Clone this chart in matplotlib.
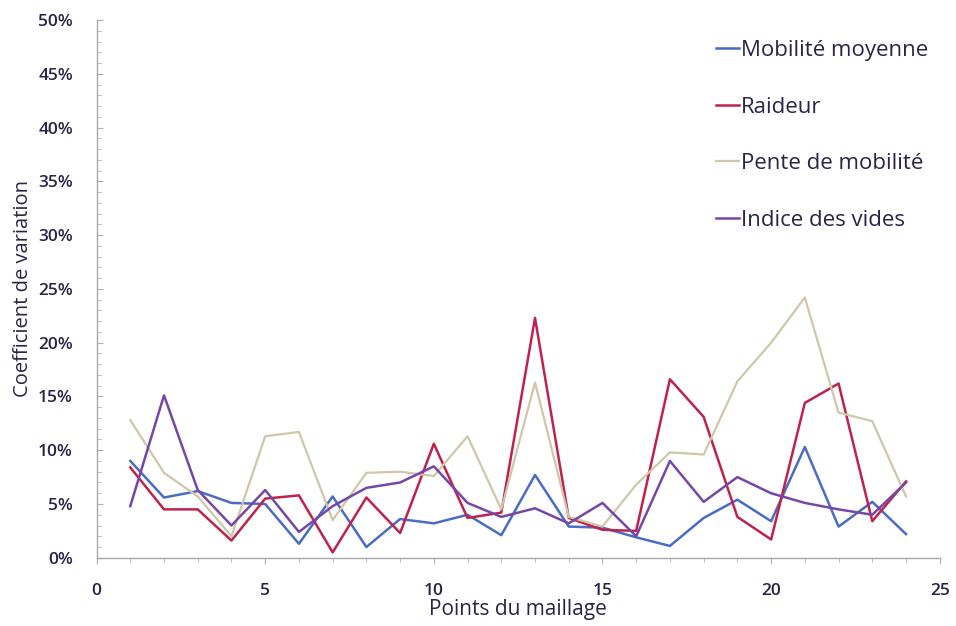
import matplotlib.pyplot as plt
from matplotlib.ticker import MultipleLocator, FuncFormatter

plt.rcParams['font.family'] = ['Open Sans', 'DejaVu Sans']

points = list(range(1, 25))

mobilite = [9.0, 5.6, 6.2, 5.1, 5.0, 1.3, 5.7, 1.0, 3.6, 3.2, 4.0, 2.1,
            7.7, 2.9, 2.8, 1.9, 1.1, 3.7, 5.4, 3.4, 10.3, 2.9, 5.2, 2.2]
raideur = [8.4, 4.5, 4.5, 1.6, 5.5, 5.8, 0.5, 5.6, 2.3, 10.6, 3.7, 4.2,
           22.3, 3.7, 2.6, 2.5, 16.6, 13.1, 3.8, 1.7, 14.4, 16.2, 3.4, 7.1]
pente = [12.8, 7.9, 5.7, 2.0, 11.3, 11.7, 3.5, 7.9, 8.0, 7.6, 11.3, 4.5,
         16.3, 3.8, 2.9, 6.8, 9.8, 9.6, 16.4, 20.0, 24.2, 13.5, 12.7, 5.7]
indice = [4.8, 15.1, 6.3, 3.0, 6.3, 2.4, 4.8, 6.5, 7.0, 8.5, 5.1, 3.8,
          4.6, 3.2, 5.1, 2.0, 9.0, 5.2, 7.5, 6.0, 5.1, 4.5, 4.0, 7.0]

series = [
    ('Mobilité moyenne', mobilite, '#4a6cc4', 1.8),
    ('Raideur', raideur, '#c0224c', 1.8),
    ('Pente de mobilité', pente, '#cfc7aa', 1.6),
    ('Indice des vides', indice, '#7647a6', 1.8),
]

fig = plt.figure(figsize=(9.56, 6.26), dpi=100)
ax = fig.add_axes([0.101, 0.109, 0.882, 0.859])

for name, vals, col, lw in series:
    ax.plot(points, vals, color=col, lw=lw, label=name)

ax.set_xlim(0, 25)
ax.set_ylim(0, 50)
ax.xaxis.set_major_locator(MultipleLocator(5))
ax.xaxis.set_minor_locator(MultipleLocator(1))
ax.yaxis.set_major_locator(MultipleLocator(5))
ax.yaxis.set_minor_locator(MultipleLocator(1))
ax.yaxis.set_major_formatter(FuncFormatter(lambda v, p: '%d%%' % v))

for s in ['top', 'right']:
    ax.spines[s].set_visible(False)
for s in ['left', 'bottom']:
    ax.spines[s].set_color('#a8a8a8')
    ax.spines[s].set_linewidth(1.0)

ax.tick_params(axis='both', which='both', color='#b0b0b0', labelcolor='#2a2448')
ax.tick_params(axis='y', which='major', length=4, pad=17, direction='in')
ax.tick_params(axis='y', which='minor', length=3, direction='in')
ax.tick_params(axis='x', which='major', length=4, pad=14)
ax.tick_params(axis='x', which='minor', length=3)
for lab in ax.get_xticklabels() + ax.get_yticklabels():
    lab.set_fontsize(12.5)
    lab.set_fontweight('semibold')

ax.set_xlabel('Points du maillage', fontsize=15, color='#2a2448', labelpad=0)
ax.set_ylabel('Coefficient de variation', fontsize=14.5, color='#2a2448', labelpad=4)

ax.legend(loc='upper right', bbox_to_anchor=(1.01, 1.0), frameon=False,
          fontsize=16, handlelength=1.0, handletextpad=0.1, labelspacing=1.6,
          labelcolor='#2a2448')

fig.savefig('out.png', dpi=100)
